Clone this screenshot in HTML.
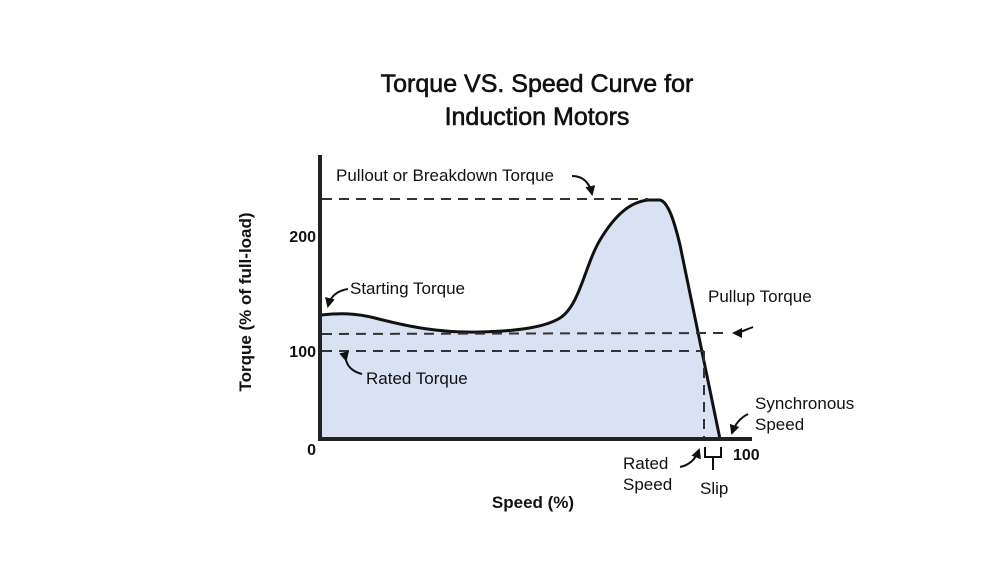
<!DOCTYPE html>
<html><head><style>body{margin:0;background:#fff}svg{display:block}text{font-family:"Liberation Sans",sans-serif;fill:#111}</style></head><body>
<svg width="1000" height="562" viewBox="0 0 1000 562">
<defs><marker id="a" viewBox="0 0 10 10" refX="8" refY="5" markerWidth="5" markerHeight="5" orient="auto"><path d="M0,0 L10,5 L0,10 Z" fill="#111"/></marker></defs>
<text x="537" y="92" font-size="25" text-anchor="middle" font-weight="normal" stroke="#111" stroke-width="0.6">Torque VS. Speed Curve for</text>
<text x="537" y="125" font-size="25" text-anchor="middle" font-weight="normal" stroke="#111" stroke-width="0.6">Induction Motors</text>
<path d="M321,315 C340,313 355,313 375,318 C410,327 440,333 480,332 C520,331 545,327 560,318 C580,305 585,265 600,240 C615,215 630,202 648,200 L660,200 C668,202 674,220 680,245 L720,439 L321,439 Z" fill="#d9e2f3"/>
<path d="M321,315 C340,313 355,313 375,318 C410,327 440,333 480,332 C520,331 545,327 560,318 C580,305 585,265 600,240 C615,215 630,202 648,200 L660,200 C668,202 674,220 680,245 L720,439" fill="none" stroke="#111" stroke-width="3"/>
<g stroke="#333" stroke-width="2" stroke-dasharray="10,7" fill="none">
<line x1="322" y1="199" x2="648" y2="199"/>
<line x1="322" y1="334" x2="730" y2="333"/>
<line x1="322" y1="351" x2="704" y2="351"/>
<line x1="704" y1="351" x2="704" y2="439"/>
</g>
<line x1="320" y1="155" x2="320" y2="441" stroke="#222" stroke-width="4"/>
<line x1="318" y1="439" x2="752" y2="439" stroke="#222" stroke-width="4"/>
<g stroke="#111" stroke-width="2" fill="none" marker-end="url(#a)">
<path d="M572,176 C585,176 590,185 592,194"/>
<path d="M348,289 C335,291 330,298 328,306"/>
<path d="M753,327 C745,330 740,333 734,333"/>
<path d="M346,360 C348,368 354,372 362,374" marker-end="none" marker-start="url(#a)"/>
<path d="M748,414 C740,418 735,424 732,433"/>
<path d="M680,467 C690,465 696,458 699,450"/>
</g>
<path d="M705,447 L705,457 L721,457 L721,447 M713,457 L713,470" stroke="#111" stroke-width="2" fill="none"/>
<text x="336" y="181" font-size="17">Pullout or Breakdown Torque</text>
<text x="350" y="294" font-size="17">Starting Torque</text>
<text x="708" y="302" font-size="17">Pullup Torque</text>
<text x="366" y="384" font-size="17">Rated Torque</text>
<text x="755" y="409" font-size="17">Synchronous</text>
<text x="755" y="430" font-size="17">Speed</text>
<text x="623" y="469" font-size="17">Rated</text>
<text x="623" y="490" font-size="17">Speed</text>
<text x="700" y="494" font-size="17">Slip</text>
<text x="733" y="460" font-size="16" font-weight="bold">100</text>
<text x="316" y="242" font-size="16" font-weight="bold" text-anchor="end">200</text>
<text x="316" y="357" font-size="16" font-weight="bold" text-anchor="end">100</text>
<text x="316" y="455" font-size="16" font-weight="bold" text-anchor="end">0</text>
<text x="533" y="508" font-size="17" font-weight="bold" text-anchor="middle">Speed (%)</text>
<text transform="translate(251,302) rotate(-90)" font-size="17" font-weight="bold" text-anchor="middle">Torque (% of full-load)</text>
</svg>
</body></html>
